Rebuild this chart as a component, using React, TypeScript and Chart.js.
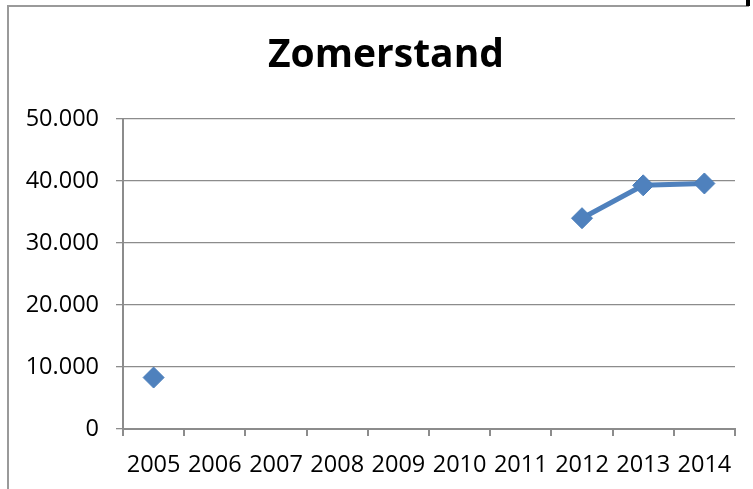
import React, { useEffect, useRef } from "react";
import { Chart, registerables } from "chart.js";

Chart.register(...registerables);

const title = "Zomerstand";
const years = ["2005", "2006", "2007", "2008", "2009", "2010", "2011", "2012", "2013", "2014"];
const values: (number | null)[] = [8300, null, null, null, null, null, null, 34000, 39300, 39600];
const yMin = 0;
const yMax = 50000;
const yStep = 10000;

function fmt(v: number): string {
  if (v === 0) return "0";
  const s = Math.round(v).toString();
  return s.replace(/\B(?=(\d{3})+(?!\d))/g, ".");
}

const font = "'Open Sans', sans-serif";

const titlePlugin = {
  id: "frameTitle",
  afterDraw(chart: any) {
    const ctx = chart.ctx;
    ctx.save();
    ctx.fillStyle = "#000";
    ctx.font = `bold 39px ${font}`;
    ctx.textAlign = "center";
    ctx.textBaseline = "middle";
    ctx.fillText(title, 386, 56);
    ctx.restore();
  },
};

export default function App() {
  const ref = useRef<HTMLCanvasElement | null>(null);

  useEffect(() => {
    if (!ref.current) return;
    const chart = new Chart(ref.current, {
      type: "line",
      data: {
        labels: years,
        datasets: [
          {
            data: values,
            borderColor: "#4F81BD",
            backgroundColor: "#4F81BD",
            borderWidth: 5,
            pointStyle: "rectRot",
            pointRadius: 10.5,
            pointBackgroundColor: "#4F81BD",
            pointBorderColor: "#4A7EBB",
            pointBorderWidth: 1,
            spanGaps: false,
            tension: 0,
          },
        ],
      },
      options: {
        animation: false,
        responsive: false,
        maintainAspectRatio: false,
        layout: { padding: { top: 119, right: 18, bottom: 0, left: 0 } },
        plugins: {
          legend: { display: false },
          tooltip: { enabled: false },
          title: { display: false },
        },
        scales: {
          x: {
            offset: true,
            grid: {
              offset: true,
              display: true,
              drawOnChartArea: false,
              drawTicks: true,
              tickLength: 7,
              color: "#8c8c8c",
              lineWidth: 2,
            },
            border: { display: true, color: "#8c8c8c", width: 2 },
            ticks: {
              color: "#000",
              font: { family: font, size: 23.5, lineHeight: 1.2 },
              padding: 15,
              maxRotation: 0,
              autoSkip: false,
            },
            afterFit: (s: any) => {
              s.height = 60;
            },
          },
          y: {
            min: yMin,
            max: yMax,
            grid: {
              color: "#8c8c8c",
              lineWidth: 1.3,
              drawTicks: true,
              tickLength: 7,
            },
            border: { display: true, color: "#8c8c8c", width: 2 },
            ticks: {
              stepSize: yStep,
              color: "#000",
              font: { family: font, size: 23.5 },
              padding: 17,
              callback: (v: any) => fmt(Number(v)),
            },
            afterFit: (s: any) => {
              s.width = 123;
            },
          },
        },
      },
      plugins: [titlePlugin],
    });
    return () => chart.destroy();
  }, []);

  return (
    <div style={{ position: "fixed", left: 0, top: 0, width: 753, height: 489, background: "#fff", overflow: "hidden" }}>
      <div
        style={{
          position: "absolute",
          left: 7,
          top: 5,
          width: 740,
          height: 500,
          borderLeft: "2px solid #9a9a9a",
          borderTop: "2px solid #9a9a9a",
        }}
      />
      <div style={{ position: "absolute", left: 746, top: 0, width: 4, height: 6, background: "#000" }} />
      <canvas ref={ref} width={753} height={489} style={{ position: "absolute", left: 0, top: 0 }} />
    </div>
  );
}
